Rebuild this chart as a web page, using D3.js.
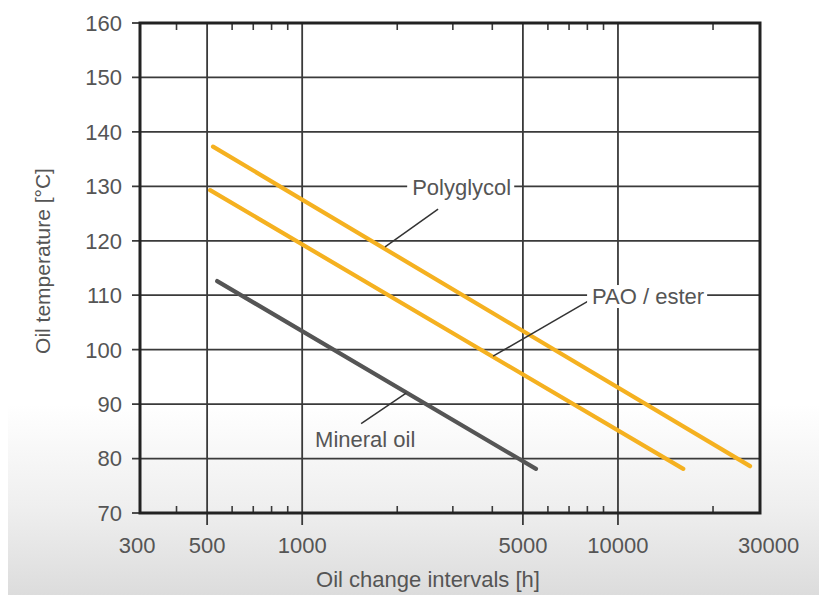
<!DOCTYPE html>
<html>
<head>
<meta charset="utf-8">
<script src="https://cdn.jsdelivr.net/npm/d3@7"></script>
<style>
  html, body { margin: 0; padding: 0; background: #fff; }
  svg { display: block; }
  text { font-family: "Liberation Sans", Arial, Helvetica, sans-serif; fill: #555; }
</style>
</head>
<body>
<svg id="chart" width="819" height="595"></svg>
<script>
// ---------- data ----------
const seriesNames   = ["Polyglycol", "PAO / ester", "Mineral oil"];
const seriesColors  = ["#f5b120", "#f5b120", "#555555"];
const polyglycolHours = [522, 26200];
const polyglycolTemp  = [137.3, 78.6];
const paoHours        = [511, 16100];
const paoTemp         = [129.3, 78.1];
const mineralHours    = [538, 5500];
const mineralTemp     = [112.6, 78.1];

const xTickValues   = [300, 500, 1000, 5000, 10000, 30000];
const xMajorGrid    = [500, 1000, 5000, 10000];
const xMinorTicks   = [400, 600, 700, 800, 900, 2000, 3000, 4000, 6000, 7000, 8000, 9000, 20000];
const yTickValues   = [70, 80, 90, 100, 110, 120, 130, 140, 150, 160];

// annotations (in data units)
const labelText  = ["Polyglycol", "PAO / ester", "Mineral oil"];
const labelHours = [2230, 8280, 1099];
const labelTemp  = [130, 110, 82.1];
const leaderFromHours = [1830, 4023, 1537];
const leaderFromTemp  = [118.9, 98.8, 86.4];
const leaderToHours   = [2694, 8045, 2134];
const leaderToTemp    = [125.8, 108.9, 92.0];

const xTitle = "Oil change intervals [h]";
const yTitle = "Oil temperature [°C]";

// ---------- layout ----------
const svg = d3.select("#chart");
const W = 819, H = 595;
const mLeft = 140, mRight = 760, mTop = 23, mBottom = 513;

// background with soft grey fade at the bottom
const defs = svg.append("defs");
const grad = defs.append("linearGradient").attr("id", "bg").attr("x1", 0).attr("x2", 0).attr("y1", 0).attr("y2", 1);
grad.append("stop").attr("offset", "0.68").attr("stop-color", "#ffffff");
grad.append("stop").attr("offset", "0.85").attr("stop-color", "#efefef");
grad.append("stop").attr("offset", "1").attr("stop-color", "#dcdcdc");
svg.append("rect").attr("x", 0).attr("y", 0).attr("width", W).attr("height", H).attr("fill", "#fff");
svg.append("rect").attr("x", 8).attr("y", 0).attr("width", W - 8).attr("height", H).attr("fill", "url(#bg)");

const x = d3.scaleLog().domain([306.5, 28170]).range([mLeft, mRight]);
const y = d3.scaleLinear().domain([70, 160]).range([mBottom, mTop]);

const gridColor = "#3a3a3a";

// horizontal grid lines (extend a little left of frame)
svg.append("g").selectAll("line").data(yTickValues.filter(v => v !== 70 && v !== 160)).join("line")
  .attr("x1", mLeft - 8).attr("x2", mRight)
  .attr("y1", d => y(d)).attr("y2", d => y(d))
  .attr("stroke", gridColor).attr("stroke-width", 1.8);
// outer ticks for 70 & 160
svg.append("g").selectAll("line").data([70, 160]).join("line")
  .attr("x1", mLeft - 8).attr("x2", mLeft)
  .attr("y1", d => y(d)).attr("y2", d => y(d))
  .attr("stroke", gridColor).attr("stroke-width", 1.8);

// vertical major grid lines (extend below frame)
svg.append("g").selectAll("line").data(xMajorGrid).join("line")
  .attr("x1", d => x(d)).attr("x2", d => x(d))
  .attr("y1", mTop).attr("y2", mBottom + 12)
  .attr("stroke", gridColor).attr("stroke-width", 1.8);

// minor ticks (top and bottom, inward)
const minorG = svg.append("g");
minorG.selectAll("line.b").data(xMinorTicks).join("line").attr("class", "b")
  .attr("x1", d => x(d)).attr("x2", d => x(d))
  .attr("y1", mBottom).attr("y2", mBottom - 7)
  .attr("stroke", gridColor).attr("stroke-width", 1.6);
minorG.selectAll("line.t").data(xMinorTicks).join("line").attr("class", "t")
  .attr("x1", d => x(d)).attr("x2", d => x(d))
  .attr("y1", mTop).attr("y2", mTop + 7)
  .attr("stroke", gridColor).attr("stroke-width", 1.6);

// series lines
const seriesHours = [polyglycolHours, paoHours, mineralHours];
const seriesTemp  = [polyglycolTemp, paoTemp, mineralTemp];
const lineGen = d3.line().x(d => x(d[0])).y(d => y(d[1]));
seriesNames.forEach((name, i) => {
  const pts = seriesHours[i].map((h, j) => [h, seriesTemp[i][j]]);
  svg.append("path").datum(pts)
    .attr("d", lineGen)
    .attr("fill", "none")
    .attr("stroke", seriesColors[i])
    .attr("stroke-width", 4.2)
    .attr("stroke-linecap", "round");
});

// frame
svg.append("rect").attr("x", mLeft).attr("y", mTop)
  .attr("width", mRight - mLeft).attr("height", mBottom - mTop)
  .attr("fill", "none").attr("stroke", "#222").attr("stroke-width", 3);

// leader lines
labelText.forEach((t, i) => {
  svg.append("line")
    .attr("x1", x(leaderFromHours[i])).attr("y1", y(leaderFromTemp[i]))
    .attr("x2", x(leaderToHours[i])).attr("y2", y(leaderToTemp[i]))
    .attr("stroke", "#333").attr("stroke-width", 1.5);
});

// labels with white masks
labelText.forEach((t, i) => {
  const g = svg.append("g");
  const txt = g.append("text")
    .attr("x", x(labelHours[i]))
    .attr("y", y(labelTemp[i]))
    .attr("dy", i < 2 ? "0.4em" : "0")
    .attr("font-size", 22)
    .text(t);
  if (i < 2) {
    const bb = txt.node().getBBox();
    g.insert("rect", "text")
      .attr("x", bb.x - 5).attr("y", bb.y + 1)
      .attr("width", bb.width + 8).attr("height", bb.height - 2)
      .attr("fill", "#fff");
  }
});

// y tick labels
svg.append("g").selectAll("text").data(yTickValues).join("text")
  .attr("x", mLeft - 18).attr("y", d => y(d)).attr("dy", "0.36em")
  .attr("text-anchor", "end").attr("font-size", 22)
  .text(d => d);

// x tick labels
svg.append("g").selectAll("text").data(xTickValues).join("text")
  .attr("x", d => x(d)).attr("y", 553)
  .attr("text-anchor", "middle").attr("font-size", 22)
  .text(d => d);

// axis titles
svg.append("text").attr("x", 428).attr("y", 587)
  .attr("text-anchor", "middle").attr("font-size", 22).text(xTitle);
svg.append("text")
  .attr("transform", "translate(49.5,261) rotate(-90)")
  .attr("text-anchor", "middle").attr("font-size", 21).text(yTitle);
</script>
</body>
</html>
